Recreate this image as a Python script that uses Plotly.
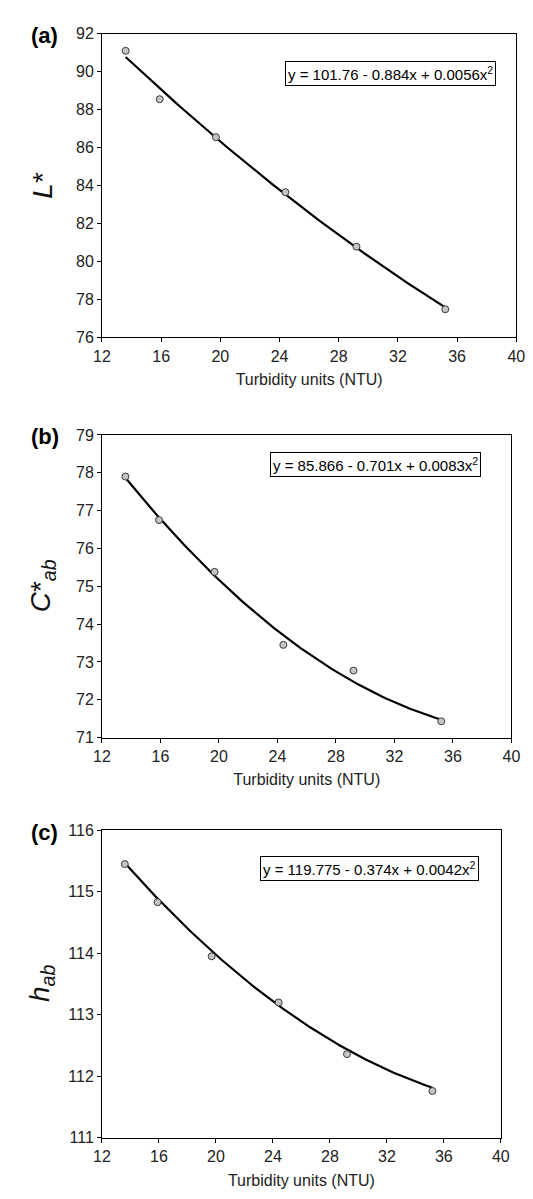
import numpy as np
import plotly.graph_objects as go

# ---- data ----
turbidity = [13.6, 15.9, 19.7, 24.4, 29.2, 35.2]
L_star = [91.1, 88.55, 86.55, 83.65, 80.78, 77.48]
C_ab = [77.9, 76.75, 75.38, 73.45, 72.77, 71.43]
h_ab = [115.45, 114.83, 113.95, 113.2, 112.36, 111.76]

# printed fit coefficients (a0, a1, a2) for y = a0 + a1 x + a2 x^2
fit_L = [101.76, -0.884, 0.0056]
fit_C = [85.866, -0.701, 0.0083]
fit_h = [119.775, -0.374, 0.0042]

eq_L = "y = 101.76 - 0.884x + 0.0056x<sup>2</sup>"
eq_C = "y = 85.866 - 0.701x + 0.0083x<sup>2</sup>"
eq_h = "y = 119.775 - 0.374x + 0.0042x<sup>2</sup>"

x_ticks = [12, 16, 20, 24, 28, 32, 36, 40]
x_title = "Turbidity units (NTU)"

panels = [
    dict(y=L_star, fit=fit_L, eq=eq_L, label="(a)", ytitle="<i>L</i>*",
         yrange=[76, 92], dtick=2, eqx=38.6, eqy=89.9),
    dict(y=C_ab, fit=fit_C, eq=eq_C, label="(b)", ytitle="<i>C</i>*<sub><i>ab</i></sub>",
         yrange=[71, 79], dtick=1, eqx=37.95, eqy=78.22),
    dict(y=h_ab, fit=fit_h, eq=eq_h, label="(c)", ytitle="<i>h</i><sub><i>ab</i></sub>",
         yrange=[111, 116], dtick=1, eqx=38.5, eqy=115.38),
]

# page body has an 8px default margin; figure sized to fill the rest
W, H = 525, 1191
# pixel boxes of each plot area in figure coords (left, right, top, bottom)
boxes = [(88, 517, 18, 326), (88, 512, 425, 732), (88, 501, 826, 1138)]

fig = go.Figure()
font_family = "Liberation Sans, Arial, sans-serif"

for i, (p, b) in enumerate(zip(panels, boxes)):
    n = "" if i == 0 else str(i + 1)
    xa, ya = "x" + n, "y" + n
    l, r, t, btm = b
    xs = np.linspace(min(turbidity), max(turbidity), 120)
    a0, a1, a2 = p["fit"]
    ys = a0 + a1 * xs + a2 * xs ** 2
    fig.add_trace(go.Scatter(x=xs, y=ys, mode="lines", line=dict(color="black", width=2.2),
                             xaxis=xa, yaxis=ya, showlegend=False, hoverinfo="skip"))
    fig.add_trace(go.Scatter(x=turbidity, y=p["y"], mode="markers",
                             marker=dict(size=7, color="#c4c4c4", line=dict(color="#3a3a3a", width=1)),
                             xaxis=xa, yaxis=ya, showlegend=False))
    axcommon = dict(showline=True, linecolor="black", linewidth=1, mirror=True,
                    ticks="outside", ticklen=4, tickcolor="black", showgrid=False, zeroline=False,
                    tickfont=dict(family=font_family, size=16, color="#222"))
    fig.layout["xaxis" + n] = dict(axcommon, domain=[l / W, r / W], range=[12, 40],
                                   tickvals=x_ticks, anchor=ya,
                                   title=dict(text=x_title, font=dict(family=font_family, size=16, color="#222"),
                                              standoff=10))
    fig.layout["yaxis" + n] = dict(axcommon, domain=[1 - btm / H, 1 - t / H], range=p["yrange"],
                                   dtick=p["dtick"], tick0=p["yrange"][0], anchor=xa)
    # y-axis title placed at fixed x
    fig.add_annotation(x=26 / W, y=1 - (t + btm) / 2 / H, xref="paper", yref="paper", text=p["ytitle"],
                       textangle=-90, showarrow=False, xanchor="center", yanchor="middle",
                       font=dict(family=font_family, size=28, color="#111"))
    fig.add_annotation(x=p["eqx"], y=p["eqy"], xref=xa, yref=ya, text=p["eq"], showarrow=False,
                       xanchor="right", yanchor="middle", bordercolor="black", borderwidth=1,
                       borderpad=2, bgcolor="white", font=dict(family=font_family, size=15, color="black"))
    fig.add_annotation(x=12 / W, y=1 - (t + 2) / H, xref="paper", yref="paper", text="<b>" + p["label"] + "</b>",
                       showarrow=False, xanchor="left", yanchor="middle",
                       font=dict(family=font_family, size=22, color="black"))

fig.update_layout(width=W, height=H, margin=dict(l=0, r=0, t=0, b=0),
                  paper_bgcolor="white", plot_bgcolor="white")
fig.write_html("out.html")
